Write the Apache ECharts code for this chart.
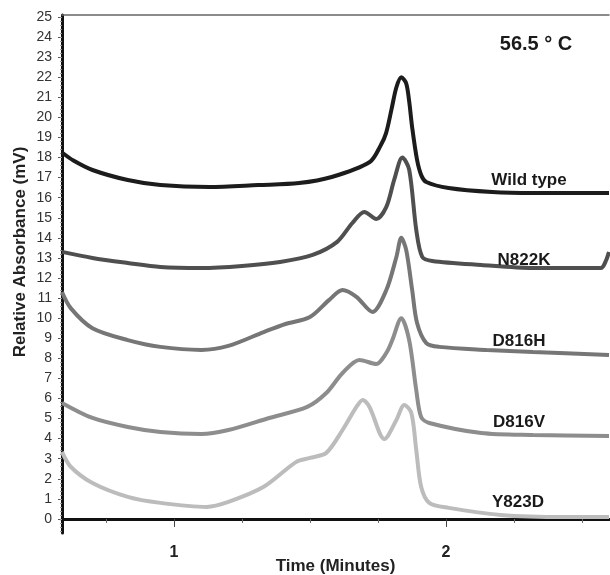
<!DOCTYPE html>
<html>
<head>
<meta charset="utf-8">
<script src="https://cdn.jsdelivr.net/npm/echarts@6/dist/echarts.min.js"></script>
<style>
html,body{margin:0;padding:0;background:#fff;}
#chart{width:610px;height:575px;}
</style>
</head>
<body>
<div id="chart"></div>
<script>
// ---- data (time in minutes, relative absorbance in mV) ----
const seriesNames = ['Wild type', 'N822K', 'D816H', 'D816V', 'Y823D'];
const wildType = [[0.588,18.25],[0.63,17.85],[0.70,17.38],[0.83,16.88],[0.95,16.63],[1.13,16.53],[1.31,16.63],[1.46,16.73],[1.58,17.03],[1.72,17.78],[1.76,18.6],[1.78,19.22],[1.80,20.4],[1.818,21.5],[1.836,22.0],[1.854,21.7],[1.865,20.8],[1.876,19.5],[1.894,17.88],[1.91,17.1],[1.928,16.78],[2.01,16.48],[2.17,16.28],[2.32,16.23],[2.6,16.23]];
const n822k = [[0.588,13.3],[0.70,13.0],[0.83,12.75],[0.95,12.55],[1.10,12.5],[1.25,12.6],[1.39,12.8],[1.51,13.15],[1.60,13.8],[1.656,14.74],[1.70,15.29],[1.744,14.94],[1.781,15.54],[1.81,16.9],[1.84,18.0],[1.865,17.4],[1.891,14.4],[1.913,13.05],[1.95,12.85],[2.13,12.65],[2.32,12.5],[2.57,12.5],[2.59,12.9],[2.6,13.3]];
const d816h = [[0.588,11.3],[0.62,10.5],[0.70,9.5],[0.83,8.91],[0.95,8.57],[1.10,8.42],[1.20,8.62],[1.33,9.31],[1.41,9.71],[1.50,10.06],[1.57,10.9],[1.62,11.4],[1.671,11.06],[1.73,10.31],[1.781,11.4],[1.818,13.05],[1.836,14.0],[1.854,13.4],[1.876,11.4],[1.894,9.76],[1.928,8.76],[1.975,8.57],[2.15,8.42],[2.32,8.32],[2.6,8.17]];
const d816v = [[0.588,5.78],[0.70,5.03],[0.83,4.58],[0.95,4.33],[1.10,4.23],[1.20,4.43],[1.35,5.03],[1.49,5.58],[1.56,6.27],[1.62,7.27],[1.682,7.92],[1.744,7.72],[1.781,8.27],[1.803,8.91],[1.836,10.0],[1.865,8.91],[1.891,6.42],[1.909,5.08],[1.939,4.78],[2.13,4.28],[2.32,4.18],[2.6,4.13]];
const y823d = [[0.588,3.34],[0.62,2.6],[0.70,1.79],[0.83,1.1],[0.95,0.8],[1.12,0.6],[1.20,0.85],[1.33,1.6],[1.45,2.84],[1.50,3.04],[1.56,3.29],[1.62,4.43],[1.671,5.58],[1.694,5.93],[1.719,5.58],[1.774,3.98],[1.818,4.93],[1.847,5.68],[1.873,5.28],[1.891,3.44],[1.909,1.6],[1.939,0.8],[2.01,0.55],[2.20,0.2],[2.44,0.1],[2.6,0.1]];
const yTickLabels = [0,1,2,3,4,5,6,7,8,9,10,11,12,13,14,15,16,17,18,19,20,21,22,23,24,25];
const xTickLabels = [1, 2];
const xMinorTicks = [0.75,1.25,1.5,1.75,2.25,2.5];
const titleText = '56.5 \u00b0 C';

// ---- chart ----
const FONT = '"Liberation Sans", Arial, sans-serif';
const colors = ['#1c1c1c', '#4f4f4f', '#767676', '#8d8d8d', '#bcbcbc'];
const allData = [wildType, n822k, d816h, d816v, y823d];
const yMin = -0.7, yMax = 25.1, xMin = 0.588, xMax = 2.6;
const yMinor = [];
for (let v = -0.6; v <= 25.05; v += 0.2) yMinor.push(Math.round(v * 10) / 10);

const chart = echarts.init(document.getElementById('chart'), null, {renderer: 'canvas'});
const labelPos = [[529, 180], [524, 260], [519, 341], [519, 422], [518, 502]];

chart.setOption({
  animation: false,
  backgroundColor: '#ffffff',
  grid: {left: 62, right: 1, top: 15, bottom: 42, containLabel: false, outerBoundsMode: 'none'},
  xAxis: [
    {
      type: 'value', min: xMin, max: xMax, position: 'bottom',
      axisLine: {show: true, lineStyle: {color: '#111', width: 3}},
      axisTick: {show: true, customValues: xTickLabels, length: 8, lineStyle: {color: '#444', width: 1}},
      axisLabel: {customValues: xTickLabels, margin: 12, fontFamily: FONT, fontSize: 16, fontWeight: 'bold', color: '#222'},
      splitLine: {show: false},
      name: 'Time (Minutes)', nameLocation: 'middle', nameGap: 25, nameMoveOverlap: false,
      nameTextStyle: {fontFamily: FONT, fontSize: 17, fontWeight: 'bold', color: '#222'}
    },
    {
      type: 'value', min: xMin, max: xMax, position: 'bottom',
      axisLine: {show: false},
      axisTick: {show: true, customValues: xMinorTicks, length: 4, lineStyle: {color: '#666', width: 1}},
      axisLabel: {show: false}, splitLine: {show: false}
    },
    {
      type: 'value', min: xMin, max: xMax, position: 'top',
      axisLine: {show: true, lineStyle: {color: '#666', width: 1.5}},
      axisTick: {show: false}, axisLabel: {show: false}, splitLine: {show: false}
    }
  ],
  yAxis: [
    {
      type: 'value', min: yMin, max: yMax, position: 'left',
      axisLine: {show: true, lineStyle: {color: '#111', width: 3}},
      axisTick: {show: true, customValues: yTickLabels, length: 4, lineStyle: {color: '#555', width: 1}},
      axisLabel: {customValues: yTickLabels, margin: 10, fontFamily: FONT, fontSize: 14, color: '#333'},
      splitLine: {show: false}
    },
    {
      type: 'value', min: yMin, max: yMax, position: 'left',
      axisLine: {show: false},
      axisTick: {show: true, customValues: yMinor, length: 2, lineStyle: {color: '#999', width: 1}},
      axisLabel: {show: false}, splitLine: {show: false}
    }
  ],
  series: allData.map((d, i) => ({
    name: seriesNames[i],
    type: 'line',
    xAxisIndex: 0, yAxisIndex: 0,
    data: d,
    smooth: 0.3,
    showSymbol: false,
    symbol: 'none',
    lineStyle: {color: colors[i], width: 4},
    clip: true,
    z: 10 - i
  })),
  graphic: [
    {
      type: 'text', x: 20, y: 252, rotation: Math.PI / 2,
      style: {text: 'Relative Absorbance (mV)', fontFamily: FONT, fontSize: 17, fontWeight: 'bold', fill: '#222', align: 'center', verticalAlign: 'middle'}
    },
    {
      type: 'text', x: 536, y: 44,
      style: {text: titleText, fontFamily: FONT, fontSize: 20, fontWeight: 'bold', fill: '#1a1a1a', align: 'center', verticalAlign: 'middle'}
    }
  ].concat(seriesNames.map((n, i) => ({
    type: 'text', x: labelPos[i][0], y: labelPos[i][1], z: 100,
    style: {text: n, fontFamily: FONT, fontSize: 17, fontWeight: 'bold', fill: '#1a1a1a', align: 'center', verticalAlign: 'middle'}
  })))
});
</script>
</body>
</html>
